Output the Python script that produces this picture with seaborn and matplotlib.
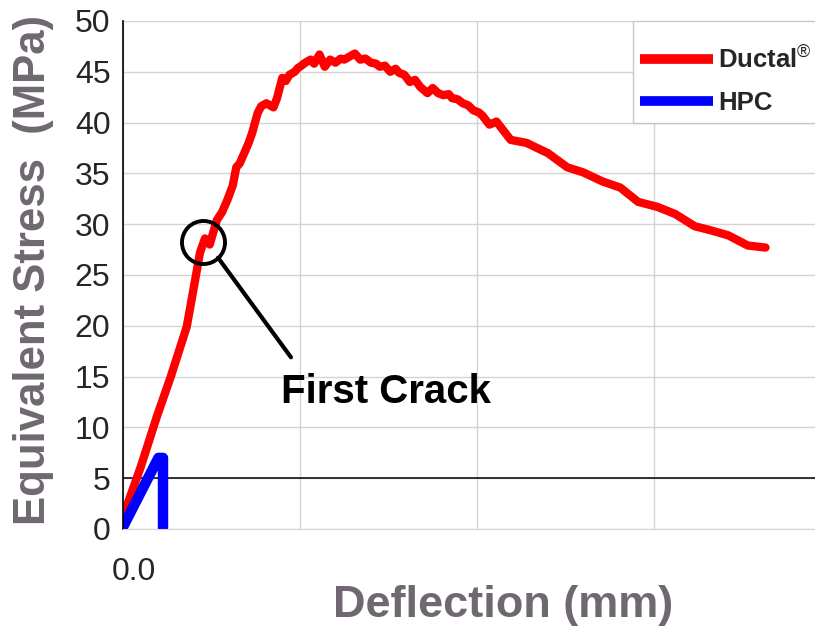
import numpy as np
import pandas as pd
import seaborn as sns
import matplotlib.pyplot as plt
from matplotlib.patches import Rectangle
from matplotlib.transforms import ScaledTranslation

# Ductal curve (deflection in grid units, stress in MPa)
ductal_x = [0.00, 0.10, 0.19, 0.27, 0.36, 0.39, 0.435, 0.463, 0.49, 0.53, 0.56, 0.59,
            0.62, 0.64, 0.66, 0.69, 0.71, 0.73, 0.76, 0.78, 0.81, 0.85, 0.87, 0.90,
            0.92, 0.94, 0.97, 0.99, 1.00, 1.03, 1.06, 1.08, 1.11, 1.14, 1.17, 1.20,
            1.23, 1.25, 1.28, 1.31, 1.34, 1.37, 1.40, 1.43, 1.45, 1.48, 1.51, 1.54,
            1.56, 1.59, 1.62, 1.65, 1.68, 1.72, 1.75, 1.78, 1.81, 1.84, 1.86, 1.89,
            1.92, 1.95, 1.98, 2.01, 2.03, 2.07, 2.11, 2.19, 2.28, 2.40, 2.51, 2.60,
            2.71, 2.81, 2.91, 3.02, 3.12, 3.23, 3.32, 3.42, 3.53, 3.63]
ductal_y = [1.2, 6.1, 11.0, 15.0, 19.9, 22.8, 27.2, 28.6, 28.0, 30.4, 31.2, 32.4,
            33.8, 35.6, 36.0, 37.2, 38.0, 39.0, 40.9, 41.6, 41.9, 41.5, 42.4, 44.4,
            44.1, 44.7, 45.0, 45.4, 45.5, 45.9, 46.2, 45.8, 46.7, 45.5, 46.2, 45.9,
            46.3, 46.2, 46.5, 46.8, 46.2, 46.3, 45.9, 45.8, 45.5, 45.6, 45.0, 45.3,
            44.9, 44.7, 44.0, 44.2, 43.5, 42.9, 43.4, 42.9, 42.7, 42.8, 42.4, 42.3,
            41.9, 41.7, 41.2, 41.0, 40.7, 39.8, 40.1, 38.3, 38.0, 37.0, 35.6, 35.1,
            34.2, 33.6, 32.2, 31.7, 31.0, 29.8, 29.4, 28.9, 27.9, 27.7]

# HPC curve
hpc_x = [0.00, 0.20, 0.226, 0.226]
hpc_y = [0.2, 7.0, 7.0, 0.1]

series_names = ["Ductal$^{\\circledR}$", "HPC"]
series_colors = ["#ff0000", "#0000ff"]

y_ticks = list(range(0, 55, 5))
x_ticks = [0, 1, 2, 3]
x_tick_labels = ["0.0", "", "", ""]

# annotation placement
crack_point = (0.452, 28.2)
crack_line = ([0.537, 0.949], [26.7, 16.9])
crack_text = (0.893, 13.5)

df = pd.concat([
    pd.DataFrame({"x": ductal_x, "y": ductal_y, "series": series_names[0]}),
    pd.DataFrame({"x": hpc_x, "y": hpc_y, "series": series_names[1]}),
], ignore_index=True)

sns.set_style("white")
plt.rcParams['font.family'] = ['Liberation Sans', 'DejaVu Sans']
plt.rcParams['mathtext.fontset'] = 'custom'
plt.rcParams['mathtext.rm'] = 'Liberation Sans'
plt.rcParams['mathtext.bf'] = 'Liberation Sans:bold'

label_gray = "#6f6870"
grid_gray = "#d4d4d4"

fig = plt.figure(figsize=(8.15, 6.3), dpi=100)
ax = fig.add_axes([123 / 815, 101 / 630, 692 / 815, 508 / 630])

sns.lineplot(data=df, x="x", y="y", hue="series", palette=series_colors,
             sort=False, estimator=None, linewidth=6.0, ax=ax)
ax.lines[1].set_linewidth(7.5)

ax.set_xlim(0, 692 / 177)
ax.set_ylim(0, 50)
ax.set_yticks(y_ticks)
ax.set_xticks(x_ticks)
ax.set_xticklabels(x_tick_labels)
ax.grid(True, color=grid_gray, linewidth=1)
ax.set_axisbelow(True)
ax.axhline(5, color="black", linewidth=1.1, zorder=1)

for s in ["top", "right"]:
    ax.spines[s].set_visible(False)
ax.spines["left"].set_color("black")
ax.spines["left"].set_linewidth(1.2)
ax.spines["bottom"].set_color(grid_gray)

ax.tick_params(axis="y", direction="out", length=7, width=1, color="black",
               labelsize=23, pad=2)
ax.tick_params(axis="x", direction="out", length=7, width=1, color=grid_gray,
               labelsize=23, pad=13)
for lab in ax.get_xticklabels():
    lab.set_transform(lab.get_transform() + ScaledTranslation(0.11, 0, fig.dpi_scale_trans))

ax.set_xlabel("Deflection (mm)", fontsize=32.5, fontweight="bold", color=label_gray)
ax.set_ylabel("Equivalent Stress  (MPa)", fontsize=31.5, fontweight="bold", color=label_gray)
ax.xaxis.set_label_coords(0.549, -0.11)
ax.yaxis.set_label_coords(-0.1, 0.51)

# first crack marker and label
ax.plot(*crack_point, marker="o", markersize=31, markerfacecolor="none",
        markeredgecolor="black", markeredgewidth=2.8, zorder=5)
ax.plot(*crack_line, color="black", linewidth=3, zorder=5)
ax.text(*crack_text, "First Crack", fontsize=29, fontweight="bold",
        ha="left", va="center", color="black")

# legend box drawn separately so the padding matches
ax.add_patch(Rectangle((0.737, 0.799), 0.3, 0.2008, transform=ax.transAxes,
                       facecolor="white", edgecolor="#c8c8c8", linewidth=1,
                       zorder=6, clip_on=False))
leg = ax.legend(loc="upper left", bbox_to_anchor=(0.747, 0.953), borderaxespad=0,
                borderpad=0, frameon=False, prop={"size": 18.5, "weight": "bold"},
                handlelength=2.85, labelspacing=0.7, handletextpad=0.2)
leg.set_zorder(7)
for line in leg.get_lines():
    line.set_linewidth(7)
    line.set_solid_capstyle("butt")

fig.savefig("out.png", dpi=100)
